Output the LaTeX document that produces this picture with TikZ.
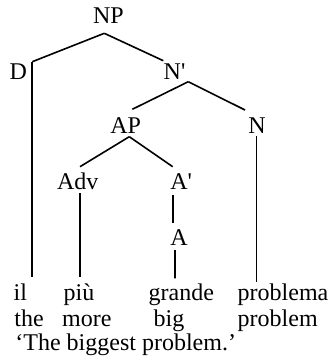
\documentclass[tikz,border=0pt]{standalone}
\usepackage{fontspec}
\setmainfont{Liberation Serif}

\begin{document}
\begin{tikzpicture}[x=0.5pt,y=-0.5pt]

    \tikzset{
      LabelStyle/.style = { anchor = base west, inner sep = 0pt,
                            font = \fontsize{12}{14}\selectfont },
      EdgeStyle/.style = { line width = 0.8pt } }

      \useasboundingbox (0,0) rectangle (328,361);

      % tree labels
      \node[LabelStyle] (NP)   at (92.7, 23.3)  {NP};
      \node[LabelStyle] (D)    at (9.3, 79)     {D};
      \node[LabelStyle] (Nbar) at (163.3, 79)   {N\textquotesingle};
      \node[LabelStyle] (AP)   at (110, 133.3)  {AP};
      \node[LabelStyle] (N)    at (248, 133.3)  {N};
      \node[LabelStyle] (Adv)  at (56.7, 189.3) {Adv};
      \node[LabelStyle] (Abar) at (170, 189.3)  {A\textquotesingle};
      \node[LabelStyle] (A)    at (170, 245)    {A};

      % words and gloss
      \node[LabelStyle] (il)       at (13.3, 300)  {il};
      \node[LabelStyle] (piu)      at (63.3, 300)  {più};
      \node[LabelStyle] (grande)   at (148.3, 300) {grande};
      \node[LabelStyle] (problema) at (237.3, 300) {problema};
      \node[LabelStyle] (the)      at (14, 326.7)    {the};
      \node[LabelStyle] (more)     at (61.7, 326.7)  {more};
      \node[LabelStyle] (big)      at (153.3, 326.7) {big};
      \node[LabelStyle] (problem)  at (237.3, 326.7) {problem};
      \node[LabelStyle] (trans)    at (15, 350) {‘The biggest problem.’};

      % branches
      \draw[EdgeStyle] ([shift={(11.6,10)}]NP.base west) -- ([shift={(23,-17.3)}]D.base west);
      \draw[EdgeStyle] ([shift={(11.6,10)}]NP.base west) -- ([shift={(0,-18.3)}]Nbar.base west);
      \draw[EdgeStyle] ([shift={(23,-17.3)}]D.base west) -- ([shift={(19,-23.3)}]il.base west);
      \draw[EdgeStyle] ([shift={(25,2.7)}]Nbar.base west) -- ([shift={(22.3,-24)}]AP.base west);
      \draw[EdgeStyle] ([shift={(25,2.7)}]Nbar.base west) -- ([shift={(-3,-23.3)}]N.base west);
      \draw[EdgeStyle] ([shift={(8.7,2.7)}]N.base west) -- ([shift={(19.4,-18.3)}]problema.base west);
      \draw[EdgeStyle] ([shift={(19.3,3.4)}]AP.base west) -- ([shift={(23.3,-22.6)}]Adv.base west);
      \draw[EdgeStyle] ([shift={(19.3,3.4)}]AP.base west) -- ([shift={(2.7,-22.6)}]Abar.base west);
      \draw[EdgeStyle] ([shift={(23.3,3.7)}]Adv.base west) -- ([shift={(16.7,-23.3)}]piu.base west);
      \draw[EdgeStyle] ([shift={(3.3,5.7)}]Abar.base west) -- ([shift={(3.3,-21.7)}]A.base west);
      \draw[EdgeStyle] ([shift={(5,5)}]A.base west) -- ([shift={(26.7,-21.7)}]grande.base west);

\end{tikzpicture}
\end{document}
